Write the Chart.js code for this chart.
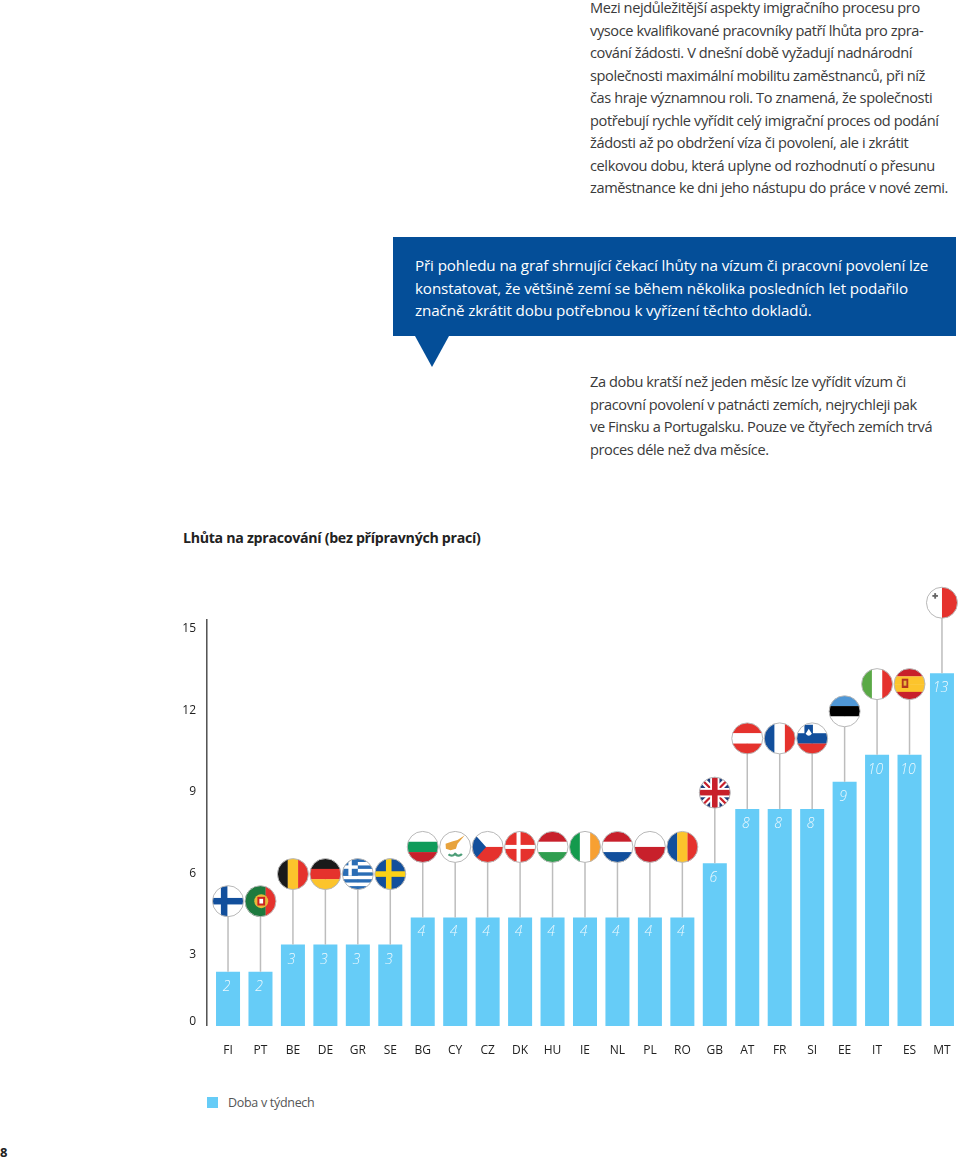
<!DOCTYPE html>
<html lang="cs">
<head>
    <meta charset="UTF-8">
    <title>Lhůta na zpracování</title>
    <script src="https://cdn.jsdelivr.net/npm/chart.js"></script>
    <style>
        html, body { margin: 0; padding: 0; background: #fff; }
        body { position: relative; width: 960px; height: 1158px; overflow: hidden;
               font-family: "Open Sans", sans-serif; color: #3a3a3a; }
        .txt { position: absolute; font-size: 14.6px; line-height: 22.5px; letter-spacing: -0.41px; white-space: nowrap; }
        #p1 { left: 590px; top: -4px; }
        #p2 { left: 590px; top: 370px; }
        #box { position: absolute; left: 393px; top: 237px; width: 563px; height: 99px; background: #044e98; }
        #arrow { position: absolute; left: 415px; top: 336px; width: 0; height: 0;
                 border-left: 17px solid transparent; border-right: 17px solid transparent;
                 border-top: 31px solid #044e98; }
        #boxText { left: 415px; top: 254px; color: #fff; font-size: 15.2px; letter-spacing: -0.115px; }
        #title { position: absolute; left: 183px; top: 528px; font-size: 14.2px; letter-spacing: -0.3px; font-weight: 700; color: #222; white-space: nowrap; }
        #legendBox { position: absolute; left: 207px; top: 1097px; width: 11px; height: 11px; background: #66ccf7; }
        #legendText { position: absolute; left: 228px; top: 1094px; font-size: 12.5px; letter-spacing: -0.3px; color: #555; white-space: nowrap; }
        #page { position: absolute; left: 0; top: 1143px; font-size: 13px; font-weight: 700; color: #222; }
        canvas { position: absolute; left: 0; top: 570px; }
    </style>
</head>
<body>
    <div class="txt" id="p1">Mezi nejdůležitější aspekty imigračního procesu pro<br>vysoce kvalifikované pracovníky patří lhůta pro zpra-<br>cování žádosti. V dnešní době vyžadují nadnárodní<br>společnosti maximální mobilitu zaměstnanců, při níž<br>čas hraje významnou roli. To znamená, že společnosti<br>potřebují rychle vyřídit celý imigrační proces od podání<br>žádosti až po obdržení víza či povolení, ale i zkrátit<br>celkovou dobu, která uplyne od rozhodnutí o přesunu<br>zaměstnance ke dni jeho nástupu do práce v nové zemi.</div>
    <div id="box"></div>
    <div id="arrow"></div>
    <div class="txt" id="boxText">Při pohledu na graf shrnující čekací lhůty na vízum či pracovní povolení lze<br>konstatovat, že většině zemí se během několika posledních let podařilo<br>značně zkrátit dobu potřebnou k vyřízení těchto dokladů.</div>
    <div class="txt" id="p2">Za dobu kratší než jeden měsíc lze vyřídit vízum či<br>pracovní povolení v patnácti zemích, nejrychleji pak<br>ve Finsku a Portugalsku. Pouze ve čtyřech zemích trvá<br>proces déle než dva měsíce.</div>
    <div id="title">Lhůta na zpracování (bez přípravných prací)</div>
    <canvas id="chart" width="960" height="505"></canvas>
    <div id="legendBox"></div>
    <div id="legendText"></div>
    <div id="page">8</div>

    <script>
        const countries = ['FI','PT','BE','DE','GR','SE','BG','CY','CZ','DK','HU','IE','NL','PL','RO','GB','AT','FR','SI','EE','IT','ES','MT'];
        const weeks = [2,2,3,3,3,3,4,4,4,4,4,4,4,4,4,6,8,8,8,9,10,10,13];
        const seriesName = 'Doba v týdnech';

        const barColor = '#66ccf7';
        const RED = '#e5322d', BLUE = '#124f9c', YEL = '#fcc42c', GRN = '#1f9d4d', WHT = '#ffffff', BLK = '#1a1a1a';

        function hBands(c, cols) {
            cols.forEach((col, i) => { c.fillStyle = col; c.fillRect(-1, -1 + 2 * i / cols.length, 2, 2 / cols.length + 0.01); });
        }
        function vBands(c, cols) {
            cols.forEach((col, i) => { c.fillStyle = col; c.fillRect(-1 + 2 * i / cols.length, -1, 2 / cols.length + 0.01, 2); });
        }
        function cross(c, bg, fg, cx, w) {
            c.fillStyle = bg; c.fillRect(-1, -1, 2, 2);
            c.fillStyle = fg;
            c.fillRect(-1, -w / 2, 2, w);
            c.fillRect(cx - w / 2, -1, w, 2);
        }
        function diag(c, col, w) {
            c.strokeStyle = col; c.lineWidth = w;
            c.beginPath(); c.moveTo(-1, -1); c.lineTo(1, 1); c.moveTo(-1, 1); c.lineTo(1, -1); c.stroke();
        }

        const flags = {
            FI: c => cross(c, WHT, BLUE, -0.25, 0.42),
            PT: c => {
                vBands(c, ['#1d7a3e', '#1d7a3e', RED]);
                c.fillStyle = '#1d7a3e'; c.fillRect(-1, -1, 1.1, 2);
                c.fillStyle = '#e9b93a'; c.beginPath(); c.arc(0.05, 0, 0.45, 0, Math.PI * 2); c.fill();
                c.fillStyle = '#c22'; c.fillRect(-0.2, -0.28, 0.5, 0.56);
                c.fillStyle = WHT; c.fillRect(-0.07, -0.15, 0.24, 0.3);
            },
            BE: c => vBands(c, [BLK, YEL, RED]),
            DE: c => hBands(c, [BLK, RED, YEL]),
            GR: c => {
                for (let i = 0; i < 9; i++) { c.fillStyle = i % 2 ? WHT : '#2a6db5'; c.fillRect(-1, -1 + i * 2 / 9, 2, 2 / 9 + 0.01); }
                c.fillStyle = '#2a6db5'; c.fillRect(-1, -1, 1, 10 / 9);
                c.fillStyle = WHT; c.fillRect(-1, -0.56, 1, 0.22); c.fillRect(-0.61, -1, 0.22, 10 / 9);
            },
            SE: c => cross(c, '#124f9c', '#fcd116', -0.1, 0.36),
            BG: c => hBands(c, [WHT, '#0f9b5a', '#c8202b']),
            CY: c => {
                c.fillStyle = WHT; c.fillRect(-1, -1, 2, 2);
                c.fillStyle = '#e8a33d';
                c.beginPath(); c.moveTo(-0.62, -0.2); c.lineTo(-0.2, -0.35); c.lineTo(0.15, -0.45); c.lineTo(0.62, -0.75);
                c.lineTo(0.15, -0.2); c.lineTo(0.05, 0.12); c.lineTo(-0.3, 0.22); c.lineTo(-0.6, 0.12); c.closePath(); c.fill();
                c.strokeStyle = '#4d9e78'; c.lineWidth = 0.14;
                c.beginPath(); c.arc(-0.22, 0.28, 0.28, 0.4, 2.4); c.stroke();
                c.beginPath(); c.arc(0.22, 0.28, 0.28, 0.7, 2.7); c.stroke();
            },
            CZ: c => {
                hBands(c, [WHT, RED]);
                c.fillStyle = BLUE; c.beginPath(); c.moveTo(-1, -1); c.lineTo(-0.1, 0); c.lineTo(-1, 1); c.closePath(); c.fill();
            },
            DK: c => cross(c, RED, WHT, -0.1, 0.26),
            HU: c => hBands(c, ['#c8202b', WHT, '#2f9e4f']),
            IE: c => vBands(c, ['#149a4d', WHT, '#f7a032']),
            NL: c => hBands(c, ['#c8202b', WHT, BLUE]),
            PL: c => hBands(c, [WHT, '#c8202b']),
            RO: c => vBands(c, [BLUE, YEL, RED]),
            GB: c => {
                c.fillStyle = '#1f3d7a'; c.fillRect(-1, -1, 2, 2);
                diag(c, WHT, 0.42); diag(c, '#c8202b', 0.14);
                c.fillStyle = WHT; c.fillRect(-1, -0.3, 2, 0.6); c.fillRect(-0.3, -1, 0.6, 2);
                c.fillStyle = '#c8202b'; c.fillRect(-1, -0.18, 2, 0.36); c.fillRect(-0.18, -1, 0.36, 2);
            },
            AT: c => hBands(c, [RED, WHT, RED]),
            FR: c => vBands(c, [BLUE, WHT, RED]),
            SI: c => {
                hBands(c, [WHT, BLUE, RED]);
                c.fillStyle = '#124f9c'; c.beginPath(); c.moveTo(-0.5, -0.88); c.lineTo(0.05, -0.88);
                c.lineTo(0.05, -0.3); c.quadraticCurveTo(-0.22, 0.05, -0.5, -0.3); c.closePath(); c.fill();
                c.fillStyle = WHT; c.beginPath(); c.moveTo(-0.42, -0.3); c.lineTo(-0.22, -0.62); c.lineTo(-0.02, -0.3);
                c.quadraticCurveTo(-0.22, -0.05, -0.42, -0.3); c.closePath(); c.fill();
            },
            EE: c => hBands(c, ['#4f97d6', '#000000', WHT]),
            IT: c => vBands(c, ['#5aa946', WHT, RED]),
            ES: c => {
                hBands(c, ['#c8202b', YEL, YEL, '#c8202b']);
                c.fillStyle = '#b3361f'; c.fillRect(-0.5, -0.35, 0.42, 0.6);
                c.fillStyle = '#e9b93a'; c.fillRect(-0.38, -0.22, 0.18, 0.32);
            },
            MT: c => {
                vBands(c, [WHT, RED]);
                c.fillStyle = '#666'; c.fillRect(-0.62, -0.5, 0.36, 0.12); c.fillRect(-0.5, -0.62, 0.12, 0.36);
            }
        };

        // stems, round flags and the value labels sit on the bars' own positions
        const flagPlugin = {
            id: 'flagPlugin',
            afterDatasetsDraw(chart) {
                const c = chart.ctx;
                const y0 = chart.scales.y;
                const r = 15.5;
                chart.getDatasetMeta(0).data.forEach((bar, i) => {
                    const cy = y0.getPixelForValue(weeks[i] + 2.6);
                    c.save();
                    c.strokeStyle = '#bdbdbd';
                    c.lineWidth = 1.5;
                    c.beginPath(); c.moveTo(bar.x, bar.y); c.lineTo(bar.x, cy); c.stroke();

                    c.save();
                    c.translate(bar.x, cy);
                    c.beginPath(); c.arc(0, 0, r, 0, Math.PI * 2); c.clip();
                    c.scale(r, r);
                    flags[countries[i]](c);
                    c.restore();

                    c.strokeStyle = '#b8b8b8';
                    c.lineWidth = 1;
                    c.beginPath(); c.arc(bar.x, cy, r, 0, Math.PI * 2); c.stroke();

                    c.fillStyle = 'rgba(255,255,255,0.88)';
                    c.font = 'italic 300 14px "Open Sans"';
                    c.textAlign = 'center';
                    c.textBaseline = 'middle';
                    c.fillText(String(weeks[i]), bar.x - 1.5, bar.y + 15);
                    c.restore();
                });

                // axis line stands a little off the first bar
                const x = chart.chartArea.left - 5;
                c.save();
                c.strokeStyle = '#444';
                c.lineWidth = 1.4;
                c.beginPath(); c.moveTo(x, chart.chartArea.top); c.lineTo(x, chart.chartArea.bottom); c.stroke();
                c.restore();
            }
        };

        document.getElementById('legendText').textContent = seriesName;

        new Chart(document.getElementById('chart').getContext('2d'), {
            type: 'bar',
            data: {
                labels: countries,
                datasets: [{
                    label: seriesName,
                    data: weeks,
                    backgroundColor: barColor,
                    barPercentage: 0.74,
                    categoryPercentage: 1
                }]
            },
            options: {
                responsive: false,
                animation: false,
                layout: { padding: { top: 49, right: 1.8, left: 0, bottom: 0 } },
                plugins: { legend: { display: false }, tooltip: { enabled: false } },
                scales: {
                    x: {
                        grid: { display: false, drawTicks: false },
                        border: { display: false },
                        afterFit(scale) {
                            scale.height = 49;
                            // stop the last label from eating into the plot width
                            scale.paddingLeft = 0;
                            scale.paddingRight = 0;
                        },
                        ticks: {
                            padding: 17,
                            maxRotation: 0,
                            autoSkip: false,
                            color: '#222',
                            font: { family: 'Open Sans', size: 12 }
                        }
                    },
                    y: {
                        min: 0,
                        max: 15,
                        grid: { display: false, drawTicks: false },
                        border: { display: false },
                        afterFit(scale) { scale.width = 211.8; },
                        ticks: {
                            stepSize: 3,
                            padding: 15.8,
                            labelOffset: 10,
                            color: '#222',
                            font: { family: 'Open Sans', size: 12 },
                            // the 0 sits above its tick, the others below: blank lines lift it
                            callback: v => v === 0 ? ['0', '', ''] : String(v)
                        }
                    }
                }
            },
            plugins: [flagPlugin]
        });
    </script>
</body>
</html>
